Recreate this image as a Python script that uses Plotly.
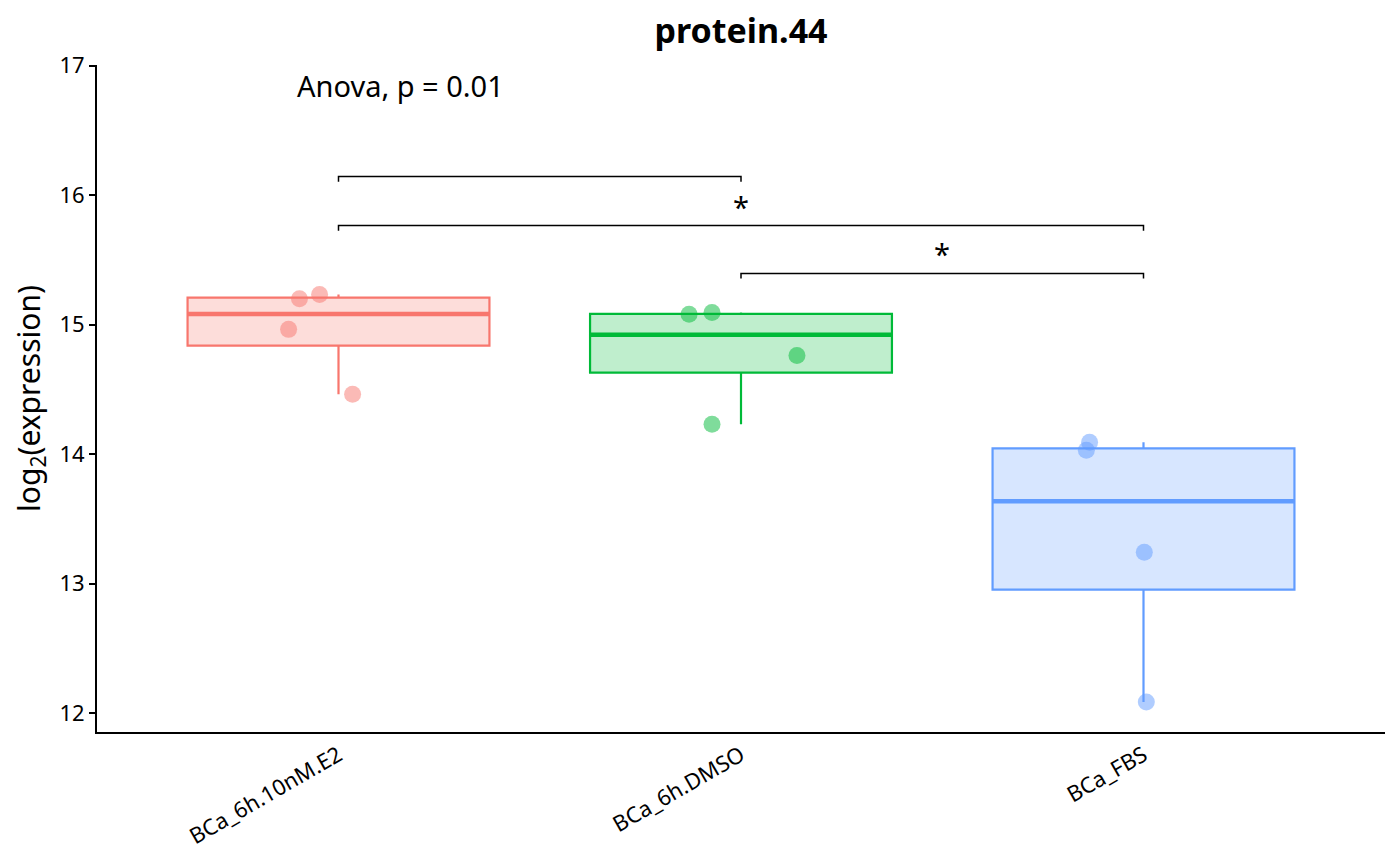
import numpy as np
import plotly.graph_objects as go

# groups and observed values (log2 expression)
groups = ["BCa_6h.10nM.E2", "BCa_6h.DMSO", "BCa_FBS"]
colors = ["#F8766D", "#00BA38", "#619CFF"]
values = [
    [15.20, 15.233, 14.963, 14.461],
    [15.079, 15.094, 14.762, 14.230],
    [14.091, 14.029, 13.242, 12.085],
]
# horizontal jitter of each point (category units)
jitter = [
    [-0.097, -0.047, -0.124, 0.035],
    [-0.129, -0.072, 0.139, -0.072],
    [-0.134, -0.142, 0.002, 0.007],
]

# pairwise comparisons: (group a, group b, bracket height, label)
comparisons = [
    (0, 1, 16.144, ""),
    (0, 2, 15.765, "*"),
    (1, 2, 15.395, "*"),
]
anova_label = "Anova, p = 0.01"

box_w = 0.75
tick_h = 0.04
font = "Noto Sans"


def rgba(hex_col, a):
    h = hex_col.lstrip("#")
    return f"rgba({int(h[0:2], 16)},{int(h[2:4], 16)},{int(h[4:6], 16)},{a})"


fig = go.Figure()

for i, (g, c, v) in enumerate(zip(groups, colors, values)):
    q1, med, q3 = np.percentile(v, [25, 50, 75])
    fig.add_trace(go.Box(
        x=[i], q1=[q1], median=[med], q3=[q3],
        lowerfence=[min(v)], upperfence=[max(v)],
        width=box_w, fillcolor=rgba(c, 0.25), whiskerwidth=0,
        line=dict(color=c, width=2.2),
        name=g, showlegend=False, hoverinfo="skip",
    ))
    # thicker median line as in ggplot
    fig.add_trace(go.Scatter(
        x=[i - box_w / 2, i + box_w / 2], y=[med, med], mode="lines",
        line=dict(color=c, width=4.5), showlegend=False, hoverinfo="skip",
    ))
    fig.add_trace(go.Scatter(
        x=[i + d for d in jitter[i]], y=v, mode="markers",
        marker=dict(color=c, size=17, opacity=0.5, line=dict(width=0)),
        showlegend=False, name=g,
    ))

for a, b, h, lab in comparisons:
    fig.add_trace(go.Scatter(
        x=[a, a, b, b], y=[h - tick_h, h, h, h - tick_h], mode="lines",
        line=dict(color="black", width=1.5), showlegend=False, hoverinfo="skip",
    ))
    if lab:
        fig.add_annotation(x=(a + b) / 2, y=h, text=lab, showarrow=False,
                           yanchor="bottom", yshift=-2,
                           font=dict(family=font, size=29, color="black"))

fig.add_annotation(x=-0.107, y=16.846, text=anova_label, showarrow=False,
                   xanchor="left", yanchor="middle",
                   font=dict(family=font, size=29, color="black"))

fig.update_layout(
    width=1400, height=866,
    margin=dict(l=89, r=23, t=57, b=142),
    plot_bgcolor="white", paper_bgcolor="white",
    font=dict(family=font, color="black"),
    title=dict(text="<b>protein.44</b>", x=0.5236, xanchor="center",
               y=0.973, yanchor="middle", yref="container",
               font=dict(family=font, size=34, color="black")),
    xaxis=dict(
        range=[-0.6, 2.6], tickmode="array", tickvals=[0, 1, 2], ticktext=groups,
        tickangle=-30, showgrid=False, zeroline=False,
        showline=True, linecolor="black", linewidth=2, ticks="",
        tickfont=dict(family=font, size=22, color="black"),
    ),
    yaxis=dict(
        range=[11.853, 17.005], tickvals=[12, 13, 14, 15, 16, 17],
        showgrid=False, zeroline=False,
        showline=True, linecolor="black", linewidth=2,
        ticks="outside", ticklen=6, tickwidth=2, tickcolor="black",
        tickfont=dict(family=font, size=22, color="black"),
        title=dict(text="log<sub>2</sub>(expression)", standoff=14,
                   font=dict(family=font, size=30, color="black")),
    ),
)

fig.write_html("out.html")
